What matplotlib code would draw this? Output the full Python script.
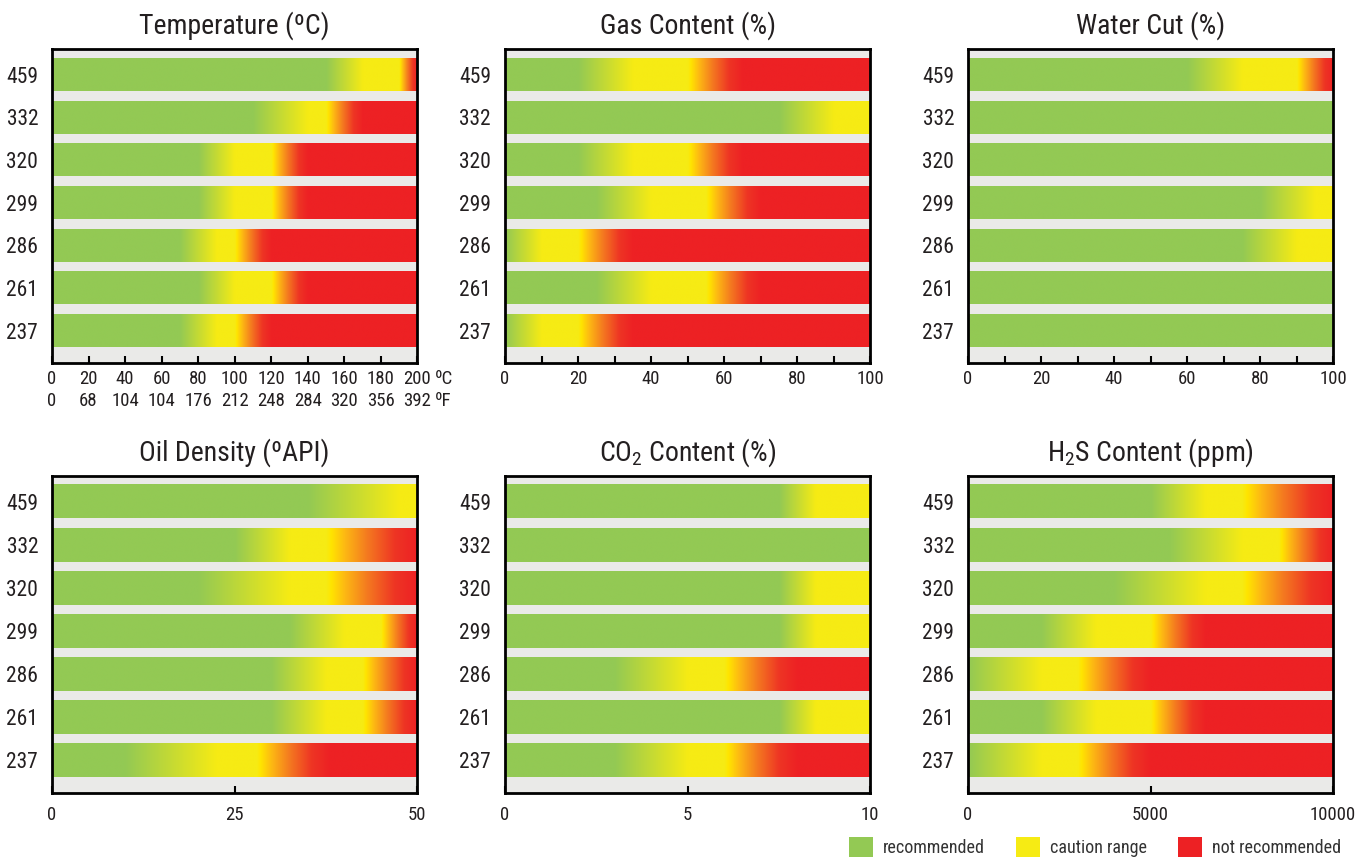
import matplotlib
matplotlib.use("Agg")
import matplotlib.pyplot as plt
import numpy as np
from matplotlib.colors import LinearSegmentedColormap
from matplotlib.patches import Patch

FONT = 'Roboto Condensed'
plt.rcParams['font.family'] = [FONT, 'DejaVu Sans']
plt.rcParams['mathtext.fontset'] = 'custom'
plt.rcParams['mathtext.rm'] = FONT

# wells, top to bottom
depths = ['459', '332', '320', '299', '286', '261', '237']

# per bar: (green end, yellow start, yellow end, red start)
temp_bounds = [(150, 170, 190, 200), (110, 140, 150, 170), (80, 100, 120, 140),
               (80, 100, 120, 140), (70, 90, 100, 120), (80, 100, 120, 140),
               (70, 90, 100, 120)]
gas_bounds = [(20, 35, 50, 65), (75, 90, 100, 100), (20, 35, 50, 65),
              (25, 40, 55, 70), (0, 10, 20, 35), (25, 40, 55, 70),
              (0, 10, 20, 35)]
water_bounds = [(60, 75, 90, 100), (100, 100, 100, 100), (100, 100, 100, 100),
                (80, 95, 100, 100), (75, 90, 100, 100), (100, 100, 100, 100),
                (100, 100, 100, 100)]
oil_bounds = [(35, 47.5, 50, 50), (25, 32.5, 37.5, 50), (20, 32.5, 37.5, 50),
              (32.5, 40, 45, 50), (30, 37.5, 42.5, 50), (30, 37.5, 42.5, 50),
              (10, 22.5, 28, 38)]
co2_bounds = [(7.5, 8.5, 10, 10), (10, 10, 10, 10), (7.5, 8.5, 10, 10),
              (7.5, 8.5, 10, 10), (3, 5, 6, 8), (7.5, 8.5, 10, 10),
              (3, 5, 6, 8)]
h2s_bounds = [(5000, 6500, 7500, 10000), (5500, 7500, 8500, 10000),
              (4000, 6500, 7500, 10000), (2000, 3500, 5000, 6500),
              (0, 2000, 3000, 5000), (2000, 3500, 5000, 6500),
              (0, 2000, 3000, 5000)]

temp_c = [0, 20, 40, 60, 80, 100, 120, 140, 160, 180, 200]
temp_f = [0, 68, 104, 104, 176, 212, 248, 284, 320, 356, 392]

GREEN = np.array([147, 201, 84]) / 255
YELLOW = np.array([246, 235, 20]) / 255
hot = LinearSegmentedColormap.from_list(
    'hot', [(0, '#F6EB14'), (0.05, '#FFE500'), (0.2, '#FDB913'),
            (0.45, '#F47920'), (0.75, '#EE3524'), (1, '#ED2124')])
TXT = '#231F20'


def strip(xmax, a, b, c, d, n=800):
    x = np.linspace(0, xmax, n)
    if b > a:
        t = np.clip((x - a) / (b - a), 0, 1)
    else:
        t = (x > a).astype(float)
    rgb = GREEN + t[:, None] * (YELLOW - GREEN)
    if d > c:
        u = np.clip((x - c) / (d - c), 0, 1)
        hc = hot(u)[:, :3]
        m = x >= c
        rgb[m] = hc[m]
    return rgb[None, :, :]


def panel(rect, title, bounds, xmax, ticks, minor=None, xpad=5):
    ax = fig.add_axes(rect)
    ax.set_facecolor('#EAEAE8')
    h = 0.77
    for i, bd in enumerate(bounds):
        y = len(bounds) - 1 - i
        ax.imshow(strip(xmax, *bd), extent=[0, xmax, y - h / 2, y + h / 2],
                  aspect='auto', interpolation='bilinear')
    ax.set_xlim(0, xmax)
    ax.set_ylim(-0.76, 6.6)
    ax.set_yticks(range(len(depths)))
    ax.set_yticklabels(depths[::-1])
    ax.tick_params(axis='y', length=0, pad=10, labelsize=15.5, labelcolor=TXT)
    ax.set_xticks(ticks)
    if minor is not None:
        ax.set_xticks(minor, minor=True)
    ax.tick_params(axis='x', which='both', direction='in', length=5, width=1.5,
                   pad=xpad, labelsize=13.5, labelcolor=TXT)
    for s in ax.spines.values():
        s.set_linewidth(2)
        s.set_color('black')
    ax.set_title(title, fontsize=20, color=TXT, pad=11)
    return ax


fig = plt.figure(figsize=(13.59, 8.68), dpi=100)

W = 0.2686
ax = panel([0.0383, 0.5818, W, 0.3618], 'Temperature (ºC)', temp_bounds, 200, temp_c)
ax.set_xticklabels([f'{c}\n{f}' for c, f in zip(temp_c, temp_f)], linespacing=1.3)
ax.text(1.048, -0.05, 'ºC', transform=ax.transAxes, fontsize=13.5, color=TXT, va='center')
ax.text(1.048, -0.12, 'ºF', transform=ax.transAxes, fontsize=13.5, color=TXT, va='center')

panel([0.3716, 0.5818, W, 0.3618], 'Gas Content (%)', gas_bounds, 100,
      range(0, 101, 20), range(10, 100, 20))
panel([0.7123, 0.5818, W, 0.3618], 'Water Cut (%)', water_bounds, 100,
      range(0, 101, 20), range(10, 100, 20))
panel([0.0383, 0.0864, W, 0.3652], 'Oil Density (ºAPI)', oil_bounds, 50, [0, 25, 50], xpad=9)
panel([0.3716, 0.0864, W, 0.3652], r'CO$_\mathregular{2}$ Content (%)', co2_bounds, 10,
      [0, 5, 10], xpad=9)
panel([0.7123, 0.0864, W, 0.3652], r'H$_\mathregular{2}$S Content (ppm)', h2s_bounds, 10000,
      [0, 5000, 10000], xpad=9)

handles = [Patch(facecolor='#93C954', label='recommended'),
           Patch(facecolor='#F6EB14', label='caution range'),
           Patch(facecolor='#ED2124', label='not recommended')]
leg = fig.legend(handles=handles, loc='lower right', bbox_to_anchor=(0.995, 0.0),
                 ncol=3, frameon=False, fontsize=13, handlelength=1.35,
                 handleheight=1.35, handletextpad=0.55, columnspacing=1.7,
                 borderpad=0.1)
for t in leg.get_texts():
    t.set_color('#333333')

fig.savefig('out.png', dpi=100)
